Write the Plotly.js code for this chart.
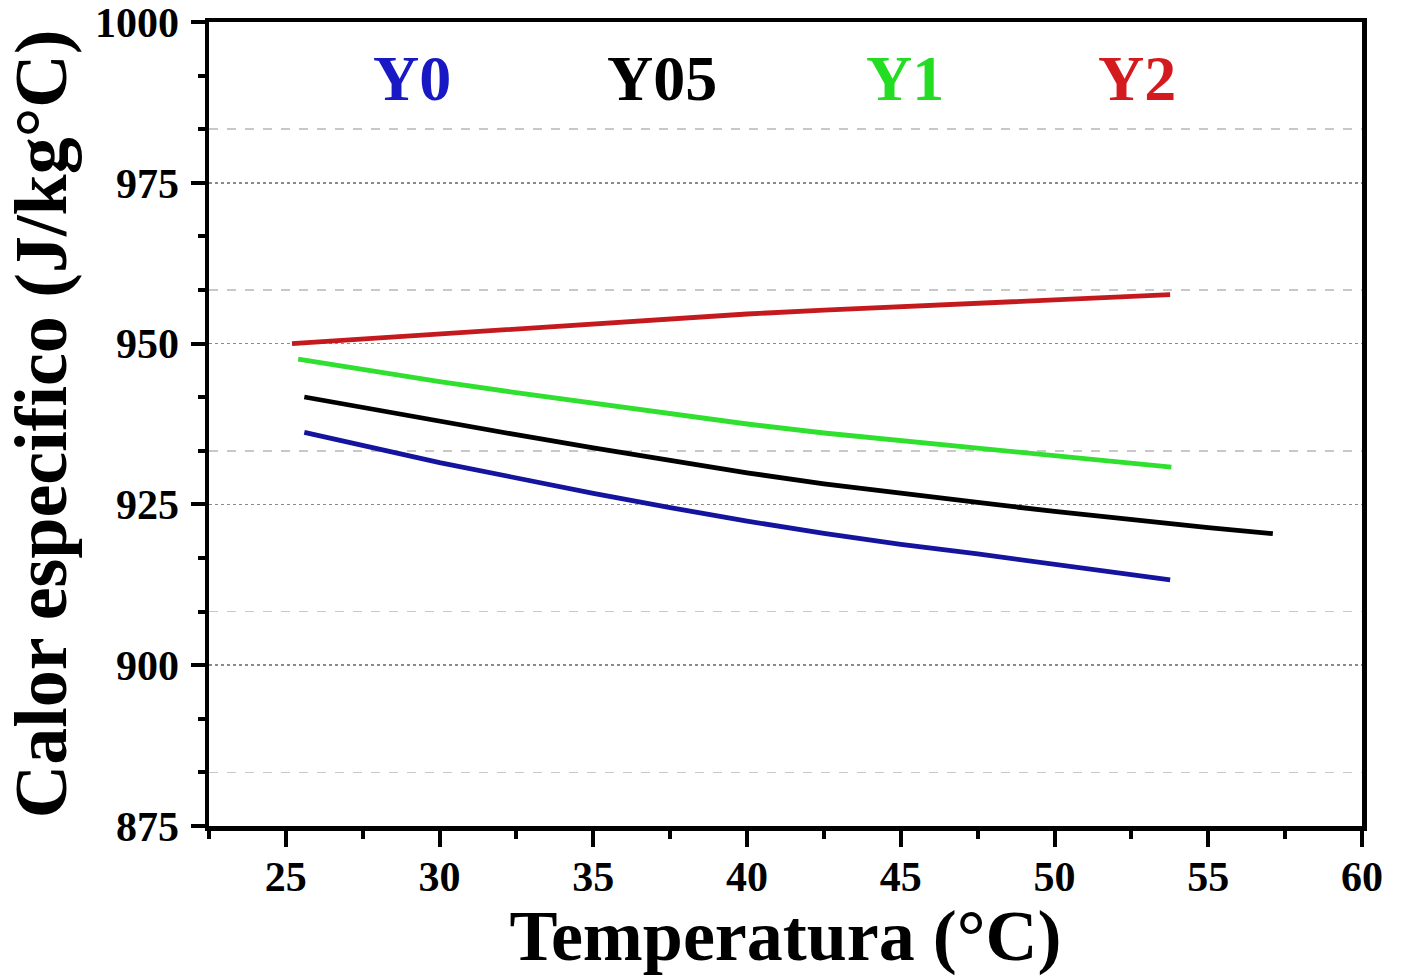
<!DOCTYPE html>
<html>
<head>
<meta charset="utf-8">
<script src="https://cdn.plot.ly/plotly-3.0.1.min.js"></script>
<style>
  html, body { margin: 0; padding: 0; background: #fff; }
  #chart { width: 1414px; height: 976px; }
</style>
</head>
<body>
<div id="chart"></div>
<script>
// Specific heat (J/kg°C) versus temperature (°C) for four mixes
const tempY0  = [25.6, 28.0, 30.0, 32.3, 35.0, 37.5, 40.0, 42.5, 45.0, 47.5, 50.0, 52.5, 53.76];
const cpY0    = [936.2, 933.6, 931.5, 929.3, 926.7, 924.5, 922.4, 920.5, 918.8, 917.3, 915.7, 914.1, 913.25];

const tempY05 = [25.6, 28.0, 30.0, 32.3, 35.0, 37.5, 40.0, 42.5, 45.0, 47.5, 50.0, 52.5, 55.0, 57.1];
const cpY05   = [941.7, 939.6, 937.9, 936.0, 933.8, 931.8, 929.9, 928.2, 926.7, 925.3, 923.9, 922.6, 921.4, 920.45];

const tempY1  = [25.4, 28.0, 30.0, 32.3, 35.0, 37.5, 40.0, 42.5, 45.0, 47.5, 50.0, 52.5, 53.8];
const cpY1    = [947.6, 945.6, 944.1, 942.5, 940.7, 939.0, 937.5, 936.1, 934.9, 933.7, 932.5, 931.4, 930.8];

const tempY2  = [25.2, 28.0, 30.0, 32.3, 35.0, 37.5, 40.0, 42.5, 45.0, 47.5, 50.0, 52.5, 53.76];
const cpY2    = [950.0, 950.9, 951.5, 952.2, 953.05, 953.85, 954.6, 955.2, 955.7, 956.25, 956.8, 957.35, 957.6];

const seriesNames = ['Y0', 'Y05', 'Y1', 'Y2'];
const lineColors  = ['#14149e', '#000000', '#2fe02f', '#c41a1e'];
const labelColors = ['#1818c4', '#000000', '#22dd22', '#d41a1e'];

const xTitle = 'Temperatura (°C)';
const yTitle = 'Calor especifico (J/kg°C)';

const serif = 'Liberation Serif, Times New Roman, serif';

const xs = [tempY0, tempY05, tempY1, tempY2];
const ys = [cpY0, cpY05, cpY1, cpY2];

const traces = xs.map((x, i) => ({
  x: x, y: ys[i], type: 'scatter', mode: 'lines',
  name: seriesNames[i],
  line: { color: lineColors[i], width: 4.8, shape: 'linear' },
  showlegend: false
}));

// in-plot series labels
const labelX = [0.176, 0.393, 0.604, 0.805];
const annotations = seriesNames.map((n, i) => ({
  text: n, xref: 'paper', yref: 'paper', x: labelX[i], y: 0.930,
  xanchor: 'center', yanchor: 'middle', showarrow: false,
  font: { family: serif, size: 64, weight: 'bold', color: labelColors[i] }
}));

const layout = {
  width: 1414, height: 976,
  margin: { l: 209, r: 52, t: 22, b: 150 },
  paper_bgcolor: '#ffffff', plot_bgcolor: '#ffffff',
  showlegend: false,
  xaxis: {
    range: [22.5, 60], tick0: 25, dtick: 5,
    showline: true, linecolor: '#000', linewidth: 4.5, mirror: true,
    ticks: 'outside', ticklen: 16, tickwidth: 4, tickcolor: '#000',
    minor: { dtick: 2.5, tick0: 22.5, ticks: 'outside', ticklen: 8, tickwidth: 4, tickcolor: '#000', showgrid: false },
    showgrid: false, zeroline: false,
    tickfont: { family: serif, size: 42, weight: 'bold', color: '#000' },
    ticklabelstandoff: -6,
    ticklabeloverflow: 'allow',
    title: { text: xTitle, font: { family: serif, size: 72, weight: 'bold', color: '#000' }, standoff: 14 }
  },
  yaxis: {
    range: [875, 1000], tick0: 875, dtick: 25,
    showline: true, linecolor: '#000', linewidth: 4.5, mirror: true,
    ticks: 'outside', ticklen: 14, tickwidth: 4, tickcolor: '#000',
    minor: { dtick: 25 / 3, ticks: 'outside', ticklen: 7, tickwidth: 4, tickcolor: '#000', showgrid: false },
    showgrid: true, gridcolor: '#8a8a8a', gridwidth: 1.5, griddash: 'dot',
    zeroline: false,
    tickfont: { family: serif, size: 42, weight: 'bold', color: '#000' },
    ticklabelstandoff: 3,
    ticklabeloverflow: 'allow',
    title: { text: yTitle, font: { family: serif, size: 74, weight: 'bold', color: '#000' }, standoff: 16 }
  },
  // secondary grid: dashed lines offset from the major ticks
  yaxis2: {
    overlaying: 'y', side: 'left', range: [875, 1000],
    tick0: 875 + 25 / 3, dtick: 25, showticklabels: false, ticks: '',
    showgrid: true, gridcolor: '#c8c8c8', gridwidth: 1.5, griddash: 'dash',
    showline: false, zeroline: false
  },
  annotations: annotations
};

// invisible trace to activate the secondary grid axis
traces.unshift({ x: [], y: [], yaxis: 'y2', type: 'scatter', mode: 'lines', showlegend: false, hoverinfo: 'skip' });

Plotly.newPlot('chart', traces, layout, { staticPlot: true, displayModeBar: false });
</script>
</body>
</html>
